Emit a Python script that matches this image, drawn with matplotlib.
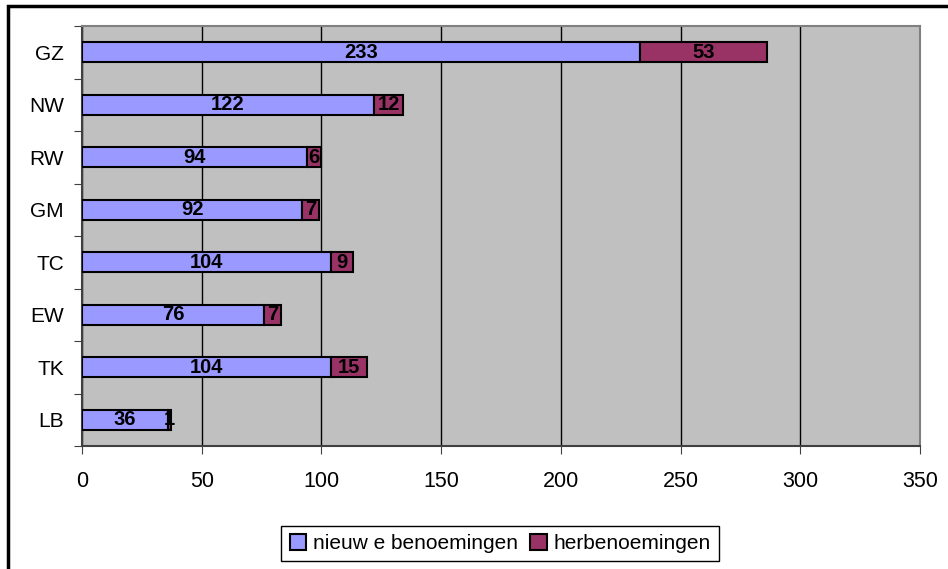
import matplotlib.pyplot as plt
from matplotlib.patches import Rectangle, Patch

plt.rcParams['font.family'] = ['Liberation Sans', 'DejaVu Sans']

categories = ['GZ', 'NW', 'RW', 'GM', 'TC', 'EW', 'TK', 'LB']
nieuw = [233, 122, 94, 92, 104, 76, 104, 36]
herbenoemd = [53, 12, 6, 7, 9, 7, 15, 1]
series_labels = ['nieuw e benoemingen', 'herbenoemingen']
x_ticks = [0, 50, 100, 150, 200, 250, 300, 350]

blue = '#9999FF'
maroon = '#993366'

fig = plt.figure(figsize=(9.48, 5.69), dpi=100)
ax = fig.add_axes([82 / 948, 1 - 446 / 569, 838 / 948, 420 / 569])
ax.set_facecolor('#C0C0C0')

y = list(range(len(categories)))
h = 0.38
b1 = ax.barh(y, nieuw, height=h, color=blue, edgecolor='black', linewidth=1.5, zorder=3)
b2 = ax.barh(y, herbenoemd, left=nieuw, height=h, color=maroon, edgecolor='black',
             linewidth=1.5, zorder=3)

# waarden midden in elk segment
for i in y:
    ax.text(nieuw[i] / 2, i, str(nieuw[i]), ha='center', va='center',
            fontsize=14.5, fontweight='bold', zorder=4)
    ax.text(nieuw[i] + herbenoemd[i] / 2, i, str(herbenoemd[i]), ha='center',
            va='center', fontsize=14.5, fontweight='bold', zorder=4)

ax.set_xlim(0, 350)
ax.set_ylim(len(categories) - 0.5, -0.5)
ax.set_xticks(x_ticks)
ax.set_xticklabels([str(t) for t in x_ticks], fontsize=15.5)
ax.xaxis.grid(True, color='black', linewidth=1, zorder=1)
ax.set_axisbelow(True)

ax.set_yticks([i - 0.5 for i in range(len(categories) + 1)])
ax.set_yticklabels([])
ax.set_yticks(y, minor=True)
ax.set_yticklabels(categories, minor=True, fontsize=15)
ax.tick_params(axis='y', which='minor', length=0, pad=13)
ax.tick_params(axis='y', which='major', length=6, direction='out', color='#404040')
ax.tick_params(axis='x', length=6, direction='out', pad=12, color='#404040')

for side in ['top', 'right']:
    ax.spines[side].set_color('#808080')
    ax.spines[side].set_linewidth(1.5)
for side in ['left', 'bottom']:
    ax.spines[side].set_color('#404040')
    ax.spines[side].set_linewidth(1.5)

handles = [Patch(facecolor=blue, edgecolor='black', linewidth=1.5),
           Patch(facecolor=maroon, edgecolor='black', linewidth=1.5)]
fig.legend(handles, series_labels, loc='center', ncol=2,
           bbox_to_anchor=(500 / 948, 1 - 543.5 / 569), fontsize=15,
           fancybox=False, edgecolor='black', framealpha=1,
           handlelength=0.8, handleheight=0.8, handletextpad=0.3,
           columnspacing=0.6, borderpad=0.4)

# rand van de figuur (loopt rechts en onder door)
fig.add_artist(Rectangle((7.5 / 948, -0.1), 1.2, 1.1 - 5.5 / 569,
                         transform=fig.transFigure, fill=False,
                         edgecolor='black', linewidth=2.5, clip_on=False))

fig.savefig('out.png', dpi=100)
